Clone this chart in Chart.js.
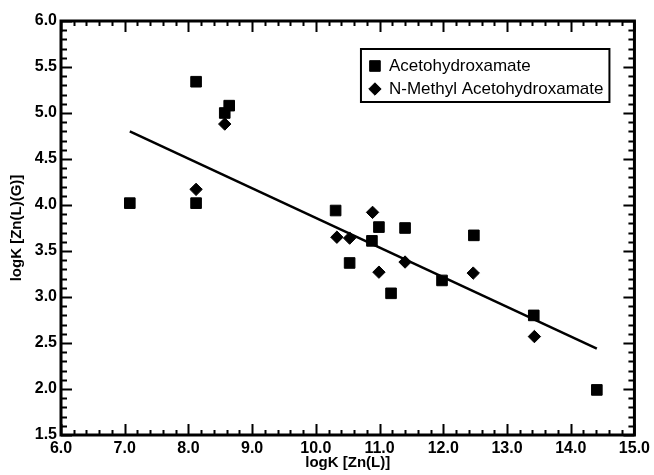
<!DOCTYPE html>
<html>
<head>
<meta charset="utf-8">
<script src="https://cdn.jsdelivr.net/npm/chart.js@4"></script>
<style>
  html, body { margin: 0; padding: 0; background: #fff; }
  canvas { display: block; }
</style>
</head>
<body>
<canvas id="scatter" width="654" height="475"></canvas>
<script>
/* ── Data ── */
const acetoX  = [7.08, 8.12, 8.12, 8.57, 8.64, 10.31, 10.53, 10.88, 10.99, 11.18, 11.40, 11.98, 12.48, 13.42, 14.41];
const acetoY  = [4.02, 5.34, 4.02, 5.00, 5.08, 3.94, 3.37, 3.61, 3.76, 3.04, 3.75, 3.18, 3.67, 2.80, 1.99];
const methylX = [8.12, 8.57, 10.33, 10.53, 10.89, 10.99, 11.40, 12.47, 13.43];
const methylY = [4.17, 4.88, 3.65, 3.64, 3.92, 3.27, 3.38, 3.26, 2.57];
const fitX    = [7.08, 14.41];
const fitY    = [4.80, 2.44];
const xTicks  = [6, 7, 8, 9, 10, 11, 12, 13, 14, 15];
const yTicks  = [1.5, 2, 2.5, 3, 3.5, 4, 4.5, 5, 5.5, 6];

const pts = (xs, ys) => xs.map((x, i) => ({ x, y: ys[i] }));
const FONT = "'Liberation Sans', Arial, Helvetica, sans-serif";

/* ── Frame with inward ticks on all four sides, plus the boxed legend ── */
const framePlugin = {
  id: "frame",
  afterDraw(chart) {
    const { ctx, chartArea: a, scales: { x, y } } = chart;
    ctx.save();
    ctx.strokeStyle = "#000";
    ctx.lineWidth = 2;
    ctx.beginPath();
    const nx = Math.round((x.max - x.min) / 0.2);
    for (let i = 0; i <= nx; i++) {
      const v = x.min + i * 0.2;
      const px = Math.round(x.getPixelForValue(v)) + 0.5;
      const len = (i % 5 === 0) ? 11 : 5;
      ctx.moveTo(px, a.bottom); ctx.lineTo(px, a.bottom - len);
      ctx.moveTo(px, a.top);    ctx.lineTo(px, a.top + len);
    }
    const ny = Math.round((y.max - y.min) / 0.1);
    for (let i = 0; i <= ny; i++) {
      const v = y.min + i * 0.1;
      const py = Math.round(y.getPixelForValue(v)) + 0.5;
      const len = (i % 5 === 0) ? 11 : 6;
      ctx.moveTo(a.left, py);  ctx.lineTo(a.left + len, py);
      ctx.moveTo(a.right, py); ctx.lineTo(a.right - len, py);
    }
    ctx.stroke();
    ctx.lineWidth = 3;
    ctx.strokeRect(a.left, a.top, a.width, a.height);

    /* legend */
    const sets = chart.data.datasets.filter(d => d.showInLegend);
    ctx.font = "17px " + FONT;
    const textW = Math.max(...sets.map(d => ctx.measureText(d.label).width));
    const rowH = 23, padL = 8, markW = 20;
    const boxW = padL + markW + textW + 6;
    const boxH = sets.length * rowH + 7;
    const bx = a.right - 25 - boxW, by = a.top + 28;
    ctx.fillStyle = "#fff";
    ctx.fillRect(bx, by, boxW, boxH);
    ctx.lineWidth = 2;
    ctx.strokeRect(bx, by, boxW, boxH);
    sets.forEach((d, i) => {
      const cy = by + 17 + i * rowH;
      const cx = bx + padL + 6;
      ctx.fillStyle = "#000";
      ctx.strokeStyle = "#000";
      ctx.lineWidth = 1;
      Chart.helpers.drawPoint(ctx, {
        pointStyle: d.pointStyle, radius: d.pointRadius, borderWidth: 1, rotation: 0
      }, cx, cy);
      ctx.textBaseline = "middle";
      ctx.textAlign = "left";
      ctx.fillText(d.label, bx + padL + markW, cy);
    });
    ctx.restore();
  }
};

new Chart(document.getElementById("scatter"), {
  type: "scatter",
  data: {
    datasets: [
      {
        label: "Acetohydroxamate", showInLegend: true,
        data: pts(acetoX, acetoY),
        pointStyle: "rect", pointRadius: 7.5, pointBorderWidth: 1,
        backgroundColor: "#000", borderColor: "#000"
      },
      {
        label: "N-Methyl Acetohydroxamate", showInLegend: true,
        data: pts(methylX, methylY),
        pointStyle: "rectRot", pointRadius: 6.2, pointBorderWidth: 1,
        backgroundColor: "#000", borderColor: "#000"
      },
      {
        type: "line", label: "fit",
        data: pts(fitX, fitY),
        borderColor: "#000", borderWidth: 2.5, pointRadius: 0, fill: false
      }
    ]
  },
  options: {
    responsive: false,
    devicePixelRatio: 1,
    animation: false,
    layout: { padding: { top: 21, right: 18, left: 0, bottom: 0 } },
    plugins: { legend: { display: false }, tooltip: { enabled: false } },
    scales: {
      x: {
        type: "linear", min: 6, max: 15,
        afterBuildTicks: s => { s.ticks = xTicks.map(v => ({ value: v })); },
        afterFit: s => { s.height = 40; },
        grid: { display: false, drawTicks: false },
        border: { display: false },
        ticks: {
          padding: 4, color: "#000", maxRotation: 0, autoSkip: false,
          font: { family: FONT, size: 16, weight: "bold" },
          callback: v => Number(v).toFixed(1)
        },
        title: {
          display: true, text: "logK [Zn(L)]", color: "#000",
          font: { family: FONT, size: 15, weight: "bold", lineHeight: 1.2 },
          padding: { top: 0, bottom: 3 }
        }
      },
      y: {
        type: "linear", min: 1.5, max: 6,
        afterBuildTicks: s => { s.ticks = yTicks.map(v => ({ value: v })); },
        afterFit: s => { s.width = 61; },
        grid: { display: false, drawTicks: false },
        border: { display: false },
        ticks: {
          padding: 4, color: "#000", autoSkip: false,
          font: { family: FONT, size: 16, weight: "bold" },
          callback: v => Number(v).toFixed(1)
        },
        title: {
          display: true, text: "logK [Zn(L)(G)]", color: "#000",
          font: { family: FONT, size: 15, weight: "bold", lineHeight: 1.2 },
          padding: { top: 8, bottom: 0 }
        }
      }
    }
  },
  plugins: [framePlugin]
});
</script>
</body>
</html>
